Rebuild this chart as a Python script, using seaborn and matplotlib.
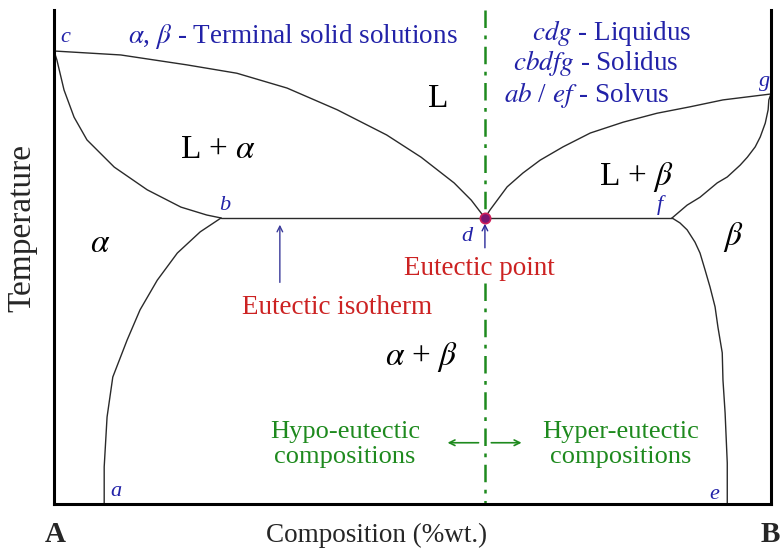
import numpy as np
import pandas as pd
import matplotlib
matplotlib.use("Agg")
import matplotlib.pyplot as plt
import seaborn as sns

# ---- data (composition %, temperature, arbitrary units) ----
liq_left_x = [0.0, 9.3, 18.5, 25.5, 32.5, 39.5, 46.4, 51.2, 55.8, 58.2, 60.1]
liq_left_y = [91.7, 90.9, 88.9, 87.2, 84.2, 79.8, 74.7, 70.2, 65.0, 61.5, 57.9]
liq_right_x = [60.1, 60.8, 63.2, 65.4, 67.8, 71.0, 74.8, 79.4, 84.1, 88.7, 93.3, 100.0]
liq_right_y = [57.9, 59.5, 64.2, 67.0, 69.6, 72.3, 75.1, 77.3, 79.1, 80.4, 81.8, 83.0]
sol_alpha_x = [0.0, 0.4, 1.4, 2.8, 4.6, 8.4, 13.0, 17.7, 21.3, 23.3]
sol_alpha_y = [91.7, 89.9, 83.8, 78.3, 73.7, 68.2, 63.6, 60.1, 58.5, 57.9]
solvus_alpha_x = [7.0, 7.0, 7.4, 8.2, 10.2, 12.0, 14.4, 17.2, 20.4, 23.3]
solvus_alpha_y = [0.0, 7.5, 17.6, 25.7, 33.2, 39.3, 45.3, 50.8, 55.1, 57.9]
sol_beta_x = [100.0, 99.7, 99.6, 99.2, 98.5, 97.8, 96.7, 95.7, 93.9, 92.5, 90.1, 88.3, 86.2]
sol_beta_y = [83.0, 81.8, 79.8, 77.1, 74.3, 72.3, 70.2, 68.6, 66.2, 65.0, 62.1, 60.5, 57.9]
solvus_beta_x = [86.2, 87.3, 88.3, 89.4, 90.1, 90.8, 91.5, 92.2, 92.6, 93.2, 93.3, 93.6, 93.7, 93.9, 93.9]
solvus_beta_y = [57.9, 56.9, 55.5, 53.0, 50.8, 47.4, 43.9, 39.9, 35.8, 30.6, 25.1, 18.4, 15.0, 8.3, 0.0]
isotherm_x = [23.3, 86.2]
isotherm_y = [57.9, 57.9]
eutectic_x = [60.1]
eutectic_y = [57.9]

point_labels = ["c", "b", "d", "f", "g", "a", "e"]
point_label_x = [1.6, 23.8, 57.6, 84.5, 99.1, 8.6, 92.1]
point_label_y = [94.4, 60.4, 54.2, 60.5, 85.6, 2.6, 2.0]

phase_labels = ["L", "L + $\\alpha$", "L + $\\beta$", "$\\alpha$", "$\\beta$", "$\\alpha$ + $\\beta$"]
phase_label_x = [53.6, 22.9, 81.3, 6.4, 94.7, 51.2]
phase_label_y = [82.0, 71.7, 66.2, 52.6, 54.0, 29.8]

segments = {
    "liquidus_left": (liq_left_x, liq_left_y),
    "liquidus_right": (liq_right_x, liq_right_y),
    "solidus_alpha": (sol_alpha_x, sol_alpha_y),
    "solvus_alpha": (solvus_alpha_x, solvus_alpha_y),
    "solidus_beta": (sol_beta_x, sol_beta_y),
    "solvus_beta": (solvus_beta_x, solvus_beta_y),
    "isotherm": (isotherm_x, isotherm_y),
}
rows = []
for name, (xs, ys) in segments.items():
    for i, (xx, yy) in enumerate(zip(xs, ys)):
        rows.append({"seg": name, "order": i, "x": xx, "y": yy})
df = pd.DataFrame(rows)

sns.set_style("white")
plt.rcParams["font.family"] = ["Liberation Serif", "DejaVu Serif"]
plt.rcParams["mathtext.fontset"] = "stix"

fig = plt.figure(figsize=(7.83, 5.5), dpi=100)
ax = fig.add_axes([54 / 783, 46 / 550, 717 / 783, 494 / 550])

sns.lineplot(data=df, x="x", y="y", units="seg", estimator=None, sort=False,
             color="#2a2a2a", linewidth=1.0, ax=ax, legend=False)

ax.set_xlim(0, 100)
ax.set_ylim(0, 100)
ax.set_xticks([])
ax.set_yticks([])
ax.set_xlabel("")
ax.set_ylabel("")
for side in ["left", "right", "bottom"]:
    ax.spines[side].set_visible(True)
    ax.spines[side].set_color("black")
    ax.spines[side].set_linewidth(2.2)
ax.spines["top"].set_visible(False)

# eutectic composition line (dash-dot green)
green = "#1e8a1e"
dashdot = (0, (7, 3, 1.5, 3))
ax.plot([60.1, 60.1], [100, 57.9], color=green, linewidth=1.8, linestyle=dashdot, zorder=2)
ax.plot([60.1, 60.1], [44.7, 0], color=green, linewidth=1.8, linestyle=dashdot, zorder=2)

# eutectic point
sns.scatterplot(x=eutectic_x, y=eutectic_y, s=55, color="#7a1670", edgecolor="#d0205a",
                linewidth=1.2, ax=ax, zorder=5, legend=False)

blue = "#2222a8"
red = "#cc2222"

# arrows
ax.annotate("", xy=(31.5, 57.1), xytext=(31.5, 44.3),
            arrowprops=dict(arrowstyle="->", color="#3a3a9a", lw=1.0))
ax.annotate("", xy=(60.1, 57.3), xytext=(60.1, 51.3),
            arrowprops=dict(arrowstyle="->", color="#2a2a9a", lw=1.0))
ax.annotate("", xy=(54.5, 12.4), xytext=(59.6, 12.4),
            arrowprops=dict(arrowstyle="->", color=green, lw=1.2))
ax.annotate("", xy=(65.6, 12.4), xytext=(60.6, 12.4),
            arrowprops=dict(arrowstyle="->", color=green, lw=1.2))

# point labels
for t, xx, yy in zip(point_labels, point_label_x, point_label_y):
    ax.text(xx, yy, t, color=blue, fontsize=16, style="italic", ha="center", va="center")

# phase labels
for t, xx, yy in zip(phase_labels, phase_label_x, phase_label_y):
    ax.text(xx, yy, t, color="black", fontsize=24, ha="center", va="center")

# legend-like notes
ax.text(10.3, 94.7, "$\\alpha$, $\\beta$ - Terminal solid solutions", color=blue, fontsize=19.5,
        ha="left", va="center")
ax.text(77.8, 95.3, "$cdg$ - Liquidus", color=blue, fontsize=19.5, ha="center", va="center")
ax.text(75.5, 89.3, "$cbdfg$ - Solidus", color=blue, fontsize=19.5, ha="center", va="center")
ax.text(74.3, 82.8, "$ab$ / $ef$ - Solvus", color=blue, fontsize=19.5, ha="center", va="center")

ax.text(39.5, 39.7, "Eutectic isotherm", color=red, fontsize=19.5, ha="center", va="center")
ax.text(59.3, 47.6, "Eutectic point", color=red, fontsize=19.5, ha="center", va="center")

ax.text(40.6, 12.1, "Hypo-eutectic\ncompositions", color=green, fontsize=19, ha="center",
        va="center", linespacing=1.18)
ax.text(79.1, 12.1, "Hyper-eutectic\ncompositions", color=green, fontsize=19, ha="center",
        va="center", linespacing=1.18)

# axis labels
fig.text(377 / 783, 1 - 535 / 550, "Composition (%wt.)", fontsize=19.5, ha="center", va="center")
fig.text(55 / 783, 1 - 535 / 550, "A", fontsize=21, fontweight="bold", ha="center", va="center")
fig.text(770 / 783, 1 - 535 / 550, "B", fontsize=21, fontweight="bold", ha="center", va="center")
fig.text(22 / 783, 1 - 228 / 550, "Temperature", fontsize=24, rotation=90, ha="center", va="center")

fig.savefig("out.png", dpi=100, facecolor="white")
